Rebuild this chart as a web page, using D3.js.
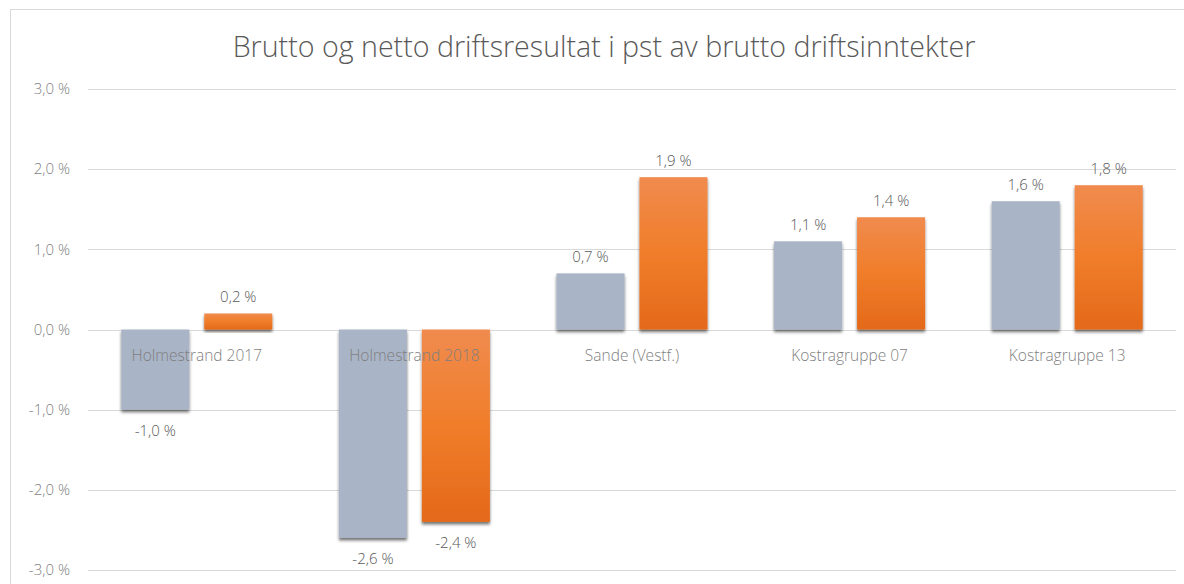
<!DOCTYPE html>
<meta charset="utf-8">
<style>
body { margin: 0; background: #fff; }
text { font-family: "Open Sans", "Noto Sans", sans-serif; font-weight: 300; }
.grid line { stroke: #d9d9d9; stroke-width: 1px; }
.tick-label { fill: #7f7f7f; font-size: 15px; }
.value-label { fill: #595959; font-size: 15px; }
.cat-label { fill: #7f7f7f; font-size: 15.5px; }
.title { fill: #595959; font-size: 28.6px; }
</style>
<body>
<script src="https://cdn.jsdelivr.net/npm/d3@7"></script>
<script>

var categories = ["Holmestrand 2017", "Holmestrand 2018", "Sande (Vestf.)", "Kostragruppe 07", "Kostragruppe 13"];
var series = ["Brutto", "Netto"];
var brutto = [-1.0, -2.6, 0.7, 1.1, 1.6];
var netto = [0.2, -2.4, 1.9, 1.4, 1.8];
var yTicks = [-3, -2, -1, 0, 1, 2, 3];
var title = "Brutto og netto driftsresultat i pst av brutto driftsinntekter";

var W = 1184, H = 584;
var margin = {top: 89, right: 8, bottom: 14, left: 88},
    width = W - margin.left - margin.right,
    height = H - margin.top - margin.bottom;

var svg = d3.select("body").append("svg")
    .attr("width", W)
    .attr("height", H);

var defs = svg.append("defs");
var grad = defs.append("linearGradient")
    .attr("id", "orange")
    .attr("x1", 0).attr("y1", 0).attr("x2", 0).attr("y2", 1);
grad.append("stop").attr("offset", "0%").attr("stop-color", "#f08b4e");
grad.append("stop").attr("offset", "50%").attr("stop-color", "#f07d2a");
grad.append("stop").attr("offset", "100%").attr("stop-color", "#e4691a");

var shadow = defs.append("filter")
    .attr("id", "shadow")
    .attr("x", "-20%").attr("y", "-20%").attr("width", "140%").attr("height", "140%");
shadow.append("feDropShadow")
    .attr("dx", 0).attr("dy", 2.5)
    .attr("stdDeviation", 1.5)
    .attr("flood-color", "#000")
    .attr("flood-opacity", 0.55);

// outer frame
svg.append("rect")
    .attr("x", 10.5).attr("y", 9.5)
    .attr("width", 1200).attr("height", 600)
    .attr("fill", "none")
    .attr("stroke", "#d9d9d9");

svg.append("text")
    .attr("class", "title")
    .attr("x", 604)
    .attr("y", 57)
    .attr("text-anchor", "middle")
    .text(title);

var g = svg.append("g")
    .attr("transform", "translate(" + margin.left + "," + margin.top + ")");

var x0 = d3.scaleBand()
    .domain(categories)
    .range([0, width])
    .paddingInner(0.306)
    .paddingOuter(0.153);

var x1 = d3.scaleBand()
    .domain(series)
    .range([0, x0.bandwidth()])
    .paddingInner(0.18);

var y = d3.scaleLinear()
    .domain([-3, 3])
    .range([height, 0]);

var fmt = function(v) { return d3.format(".1f")(v).replace(".", ",").replace("−", "-") + " %"; };

// gridlines
g.append("g").attr("class", "grid")
  .selectAll("line")
  .data(yTicks)
  .enter().append("line")
    .attr("x1", 0).attr("x2", width)
    .attr("y1", function(d) { return Math.round(y(d)) + 0.5; })
    .attr("y2", function(d) { return Math.round(y(d)) + 0.5; });

g.append("g")
  .selectAll("text")
  .data(yTicks)
  .enter().append("text")
    .attr("class", "tick-label")
    .attr("x", -18)
    .attr("y", function(d) { return y(d); })
    .attr("dy", "0.35em")
    .attr("text-anchor", "end")
    .text(fmt);

var rows = categories.map(function(c, i) {
  return {cat: c, values: [{s: "Brutto", v: brutto[i]}, {s: "Netto", v: netto[i]}]};
});

var groups = g.selectAll(".group")
  .data(rows)
  .enter().append("g")
    .attr("class", "group")
    .attr("transform", function(d) { return "translate(" + x0(d.cat) + ",0)"; });

groups.selectAll("rect")
  .data(function(d) { return d.values; })
  .enter().append("rect")
    .attr("x", function(d) { return x1(d.s); })
    .attr("width", x1.bandwidth())
    .attr("y", function(d) { return y(Math.max(0, d.v)); })
    .attr("height", function(d) { return Math.abs(y(d.v) - y(0)); })
    .attr("fill", function(d) { return d.s === "Brutto" ? "#a9b4c6" : "url(#orange)"; })
    .attr("filter", "url(#shadow)");

groups.selectAll(".value-label")
  .data(function(d) { return d.values; })
  .enter().append("text")
    .attr("class", "value-label")
    .attr("x", function(d) { return x1(d.s) + x1.bandwidth() / 2; })
    .attr("y", function(d) { return d.v >= 0 ? y(d.v) - 11 : y(d.v) + 26; })
    .attr("text-anchor", "middle")
    .text(function(d) { return fmt(d.v); });

groups.append("text")
    .attr("class", "cat-label")
    .attr("x", x0.bandwidth() / 2)
    .attr("y", y(0) + 31)
    .attr("text-anchor", "middle")
    .text(function(d) { return d.cat; });

</script>
</body>
</html>
